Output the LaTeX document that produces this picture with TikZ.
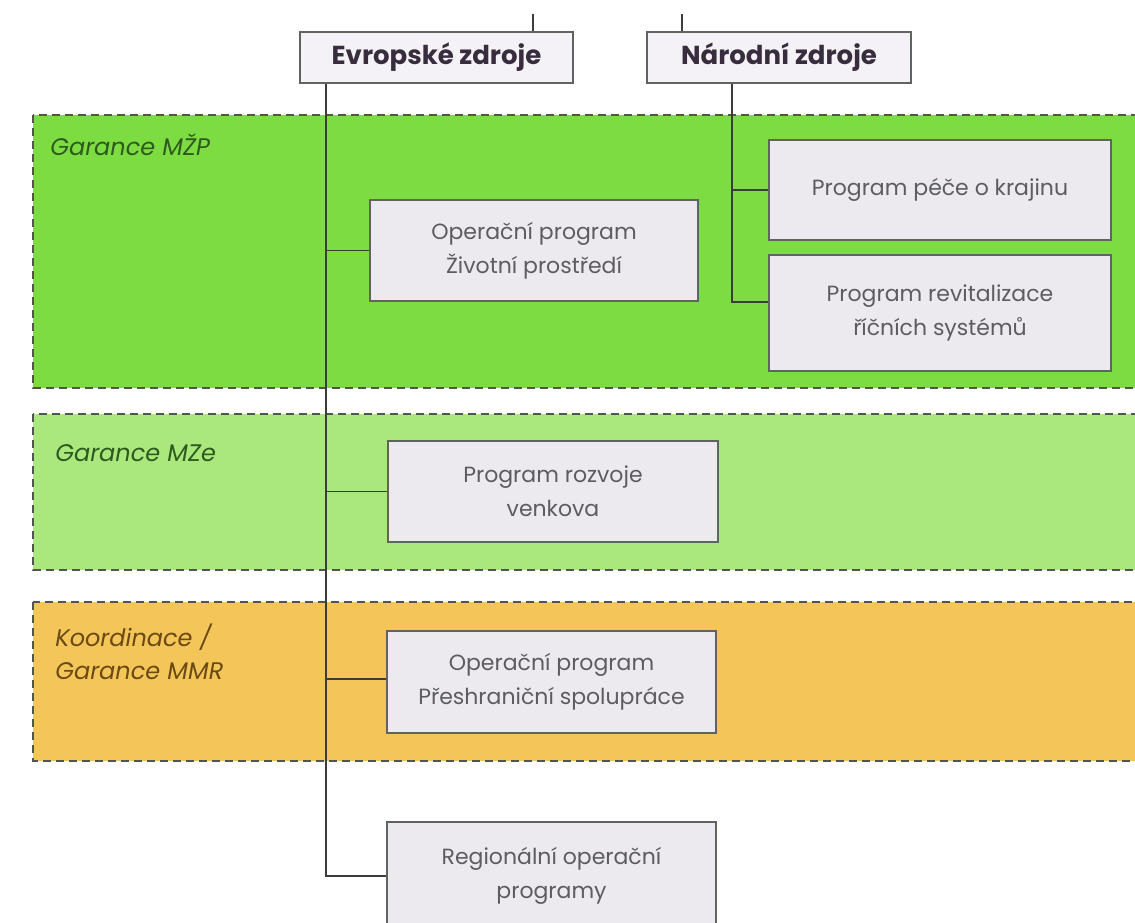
\documentclass[tikz,border=0pt]{standalone}
\usepackage{fontspec}
\setmainfont{Poppins}
\usepackage{tikz}

\definecolor{zelena}{HTML}{7DDC41}
\definecolor{svetlezelena}{HTML}{AAE87D}
\definecolor{oranzova}{HTML}{F4C65A}
\definecolor{progfill}{HTML}{ECEAEE}
\definecolor{zdrojfill}{HTML}{F4F1F7}
\definecolor{ramp}{HTML}{5F645F}
\definecolor{progtext}{HTML}{5C5C62}
\definecolor{zdrojtext}{HTML}{372D3C}
\definecolor{zelentext}{HTML}{2D5A1E}
\definecolor{hnedtext}{HTML}{6B4A14}
\definecolor{carky}{HTML}{50554F}
\definecolor{cara}{HTML}{3A3D3A}

\begin{document}
\begin{tikzpicture}[x=1pt, y=-1pt, thick,
  zdroj/.style={draw=ramp, fill=zdrojfill, line width=1.4pt, minimum height=51pt, inner sep=0pt, text=zdrojtext, font=\fontsize{26}{30}\selectfont\bfseries},
  prog/.style={draw=ramp, fill=progfill, line width=1.4pt, inner sep=0pt, align=center, text=progtext, font=\fontsize{22}{34}\selectfont},
  pas/.style={draw=carky, dash pattern=on 8pt off 5pt, line width=2pt},
  stitek/.style={anchor=base west, inner sep=0pt, font=\fontsize{24}{30}\selectfont\itshape},
  spoj/.style={draw=cara, line width=1.5pt}]
\useasboundingbox (0,0) rectangle (1135,922);
\clip (0,0) rectangle (1135,922);

% pasy
\draw[pas, fill=zelena] (33,115) rectangle (1145,388);
\draw[pas, fill=svetlezelena] (33,414) rectangle (1145,570);
\draw[pas, fill=oranzova] (33,602) rectangle (1145,761);

\node[stitek, text=zelentext] (g1) at (50,155) {Garance MŽP};
\node[stitek, text=zelentext] (g2) at (55,461) {Garance MZe};
\node[stitek, text=hnedtext] (g3) at (55,646) {Koordinace /};
\node[stitek, text=hnedtext] (g4) at (55,679) {Garance MMR};

% zdroje
\node[zdroj, minimum width=273pt] (e1) at (436.5,57.5) {Evropské zdroje};
\node[zdroj, minimum width=264pt] (n1) at (779,57.5) {Národní zdroje};

% programy
\node[prog, minimum width=328pt, minimum height=101pt] (p1) at (534,250.5) {Operační program\\Životní prostředí};
\node[prog, minimum width=342pt, minimum height=100pt] (p2) at (940,190) {Program péče o krajinu};
\node[prog, minimum width=342pt, minimum height=116pt] (p3) at (940,313) {Program revitalizace\\říčních systémů};
\node[prog, minimum width=330pt, minimum height=101pt] (p4) at (553,491.5) {Program rozvoje\\venkova};
\node[prog, minimum width=329pt, minimum height=102pt] (p5) at (551.5,682) {Operační program\\Přeshraniční spolupráce};
\node[prog, minimum width=329pt, minimum height=108pt] (p6) at (551.5,876) {Regionální operační\\programy};

\coordinate (e0) at (533,14);
\coordinate (n0) at (682,14);
\coordinate (es) at (326,0);
\coordinate (ns) at (732,0);

\draw[spoj] (e0) -- (e0 |- e1.north);
\draw[spoj] (n0) -- (n0 |- n1.north);
\draw[spoj] (e1.south -| es) |- (p6.west);
\draw[spoj] (p1.west -| es) -- (p1.west);
\draw[spoj] (p4.west -| es) -- (p4.west);
\draw[spoj] ([yshift=3pt]p5.west -| es) -- ([yshift=3pt]p5.west);
\draw[spoj] (n1.south -| ns) |- ([yshift=11pt]p3.west);
\draw[spoj] (p2.west -| ns) -- (p2.west);
\end{tikzpicture}
\end{document}
